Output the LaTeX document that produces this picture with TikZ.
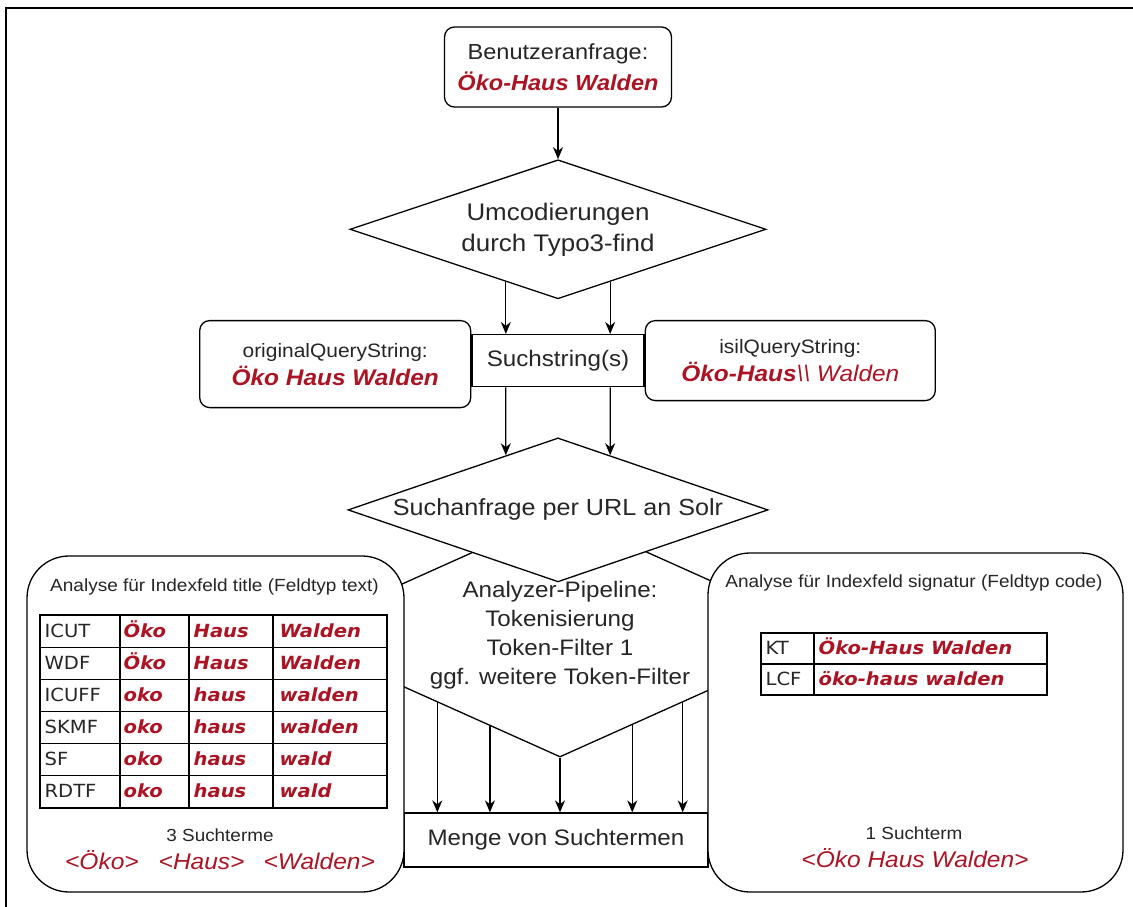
\documentclass[tikz,border=0pt]{standalone}
\usepackage{fontspec}
\setmainfont{Liberation Sans}[FakeStretch=1.08]
\newfontfamily\tabfont{DejaVu Sans}[FakeStretch=1.08]
\usetikzlibrary{positioning,shapes.geometric,calc,arrows.meta}
\definecolor{termred}{RGB}{172,20,36}
\newcommand{\redterm}[1]{\textcolor{termred}{\bfseries\itshape #1}}
\tikzset{
  rbox/.style={draw, fill=white, rounded corners=10pt, align=center, inner sep=0pt},
  bigbox/.style={draw, fill=white, rounded corners=42pt, inner sep=0pt},
  decision/.style={draw, fill=white, diamond, align=center, inner sep=0pt},
  plainbox/.style={draw, fill=white, inner sep=0pt},
  cell/.style={anchor=west, inner sep=0pt, text height=14pt, text depth=2pt, font=\tabfont\fontsize{18.1}{21}\selectfont},
  redcell/.style={cell, text=termred, font=\tabfont\fontsize{18.1}{21}\selectfont\bfseries\itshape},
  boxhead/.style={font=\fontsize{17.6}{21}\selectfont},
  termline/.style={text=termred, font=\fontsize{22.7}{26}\selectfont\itshape},
}

\begin{document}
\begin{tikzpicture}[x=1pt, y=-1pt, line width=1.3pt, text=black!85, >={Stealth[length=12pt,width=10pt]}]
  \useasboundingbox (0,0) rectangle (1133,907);
  \draw[line width=2pt] (6,907) -- (6,8) -- (1133,8);

  % oberer Teil
  \node[rbox, minimum width=227pt, minimum height=80pt, font=\fontsize{21.8}{31}\selectfont] (query) at (558,67) {Benutzeranfrage:\\\redterm{Öko-Haus Walden}};
  \node[decision, shape aspect=3, minimum width=416pt, minimum height=139pt, font=\fontsize{24}{31}\selectfont, below=51.5pt of query] (umcod) {Umcodierungen\\durch Typo3-find};
  \node[plainbox, minimum width=172pt, minimum height=52pt, font=\fontsize{22.4}{25}\selectfont, below=34.5pt of umcod] (such) {Suchstring(s)};
  \node[rbox, minimum width=271pt, minimum height=87pt, font=\fontsize{19.4}{28}\selectfont, left=0pt of such, yshift=-3.5pt] (orig) {originalQueryString:\\{\fontsize{22.6}{28}\selectfont\redterm{Öko Haus Walden}}};
  \node[rbox, minimum width=290pt, minimum height=80pt, font=\fontsize{19.4}{28}\selectfont, right=0pt of such] (isil) {isilQueryString:\\{\fontsize{22.6}{28}\selectfont\redterm{Öko-Haus}\textcolor{termred}{\itshape\textbackslash\textbackslash\ Walden}}};

  \draw[->] (query) -- (umcod);
  \draw[->] ($(umcod.south)!0.25!(umcod.west)$) coordinate (u1) -- (u1 |- such.north);
  \draw[->] ($(umcod.south)!0.25!(umcod.east)$) coordinate (u2) -- (u2 |- such.north);

  % Analyzer-Pipeline und Menge
  \node[decision, shape aspect=2.23, minimum width=544pt, minimum height=244pt, font=\fontsize{22.4}{29}\selectfont] (pipe) at (560,635) {Analyzer-Pipeline:\\Tokenisierung\\Token-Filter 1\\ggf. weitere Token-Filter};
  \node[plainbox, minimum width=304pt, minimum height=54pt, font=\fontsize{22.4}{25}\selectfont] (menge) at (556,840) {Menge von Suchtermen};
  \foreach \t/\s [count=\k] in {0.45/west, 0.257/west, 0/west, 0.265/east, 0.45/east}
    \draw[->] ($(pipe.south)!\t!(pipe.\s)$) coordinate (p\k) -- (p\k |- menge.north);

  % Indexfeld title
  \node[bigbox, minimum width=377pt, minimum height=336pt] (titlebox) at (215.5,724) {};
  \node[boxhead] (titlehead) at (214.5,587) {Analyse für Indexfeld title (Feldtyp text)};
  \draw (40,615) rectangle (387,808);
  \foreach \y in {647.2,679.3,711.5,743.7,775.8} \draw (40,\y) -- (387,\y);
  \foreach \x in {120,189,273} \draw (\x,615) -- (\x,808);
  \foreach \lab/\a/\b/\c [count=\i from 0] in {ICUT/Öko/Haus/Walden, WDF/Öko/Haus/Walden, ICUFF/oko/haus/walden, SKMF/oko/haus/walden, SF/oko/haus/wald, RDTF/oko/haus/wald} {
    \node[cell] (lab\i) at (44,{631.1+32.17*\i}) {\lab};
    \node[redcell] (ta\i) at (123,{631.1+32.17*\i}) {\a};
    \node[redcell] (tb\i) at (193,{631.1+32.17*\i}) {\b};
    \node[redcell] (tc\i) at (279,{631.1+32.17*\i}) {\c};
  }
  \node[font=\fontsize{17.5}{21}\selectfont] (titlecount) at (220,835) {3 Suchterme};
  \node[termline] (titleterms) at (220,860) {<Öko>\hspace{20pt}<Haus>\hspace{19pt}<Walden>};

  % Indexfeld signatur
  \node[bigbox, minimum width=415pt, minimum height=339pt] (sigbox) at (915.5,722.5) {};
  \node[boxhead] (sighead) at (914,583) {Analyse für Indexfeld signatur (Feldtyp code)};
  \draw (761,633) rectangle (1047,695);
  \draw (761,664) -- (1047,664);
  \draw (814,633) -- (814,695);
  \node[cell] (kt) at (765,648.5) {KT};
  \node[redcell] (ktterm) at (818,648.5) {Öko-Haus Walden};
  \node[cell] (lcf) at (765,679.5) {LCF};
  \node[redcell] (lcfterm) at (818,679.5) {öko-haus walden};
  \node[font=\fontsize{17.5}{21}\selectfont] (sigcount) at (914,833) {1 Suchterm};
  \node[termline] (sigterm) at (915,858) {<Öko Haus Walden>};

  % Suchanfrage an Solr
  \node[decision, shape aspect=2.9, minimum width=420pt, minimum height=144pt, font=\fontsize{23.3}{25}\selectfont, below=50pt of such] (solr) {Suchanfrage per URL an Solr};
  \draw[->] (u1 |- such.south) -- ($(solr.north)!0.2476!(solr.west)$);
  \draw[->] (u2 |- such.south) -- ($(solr.north)!0.2476!(solr.east)$);
\end{tikzpicture}
\end{document}
